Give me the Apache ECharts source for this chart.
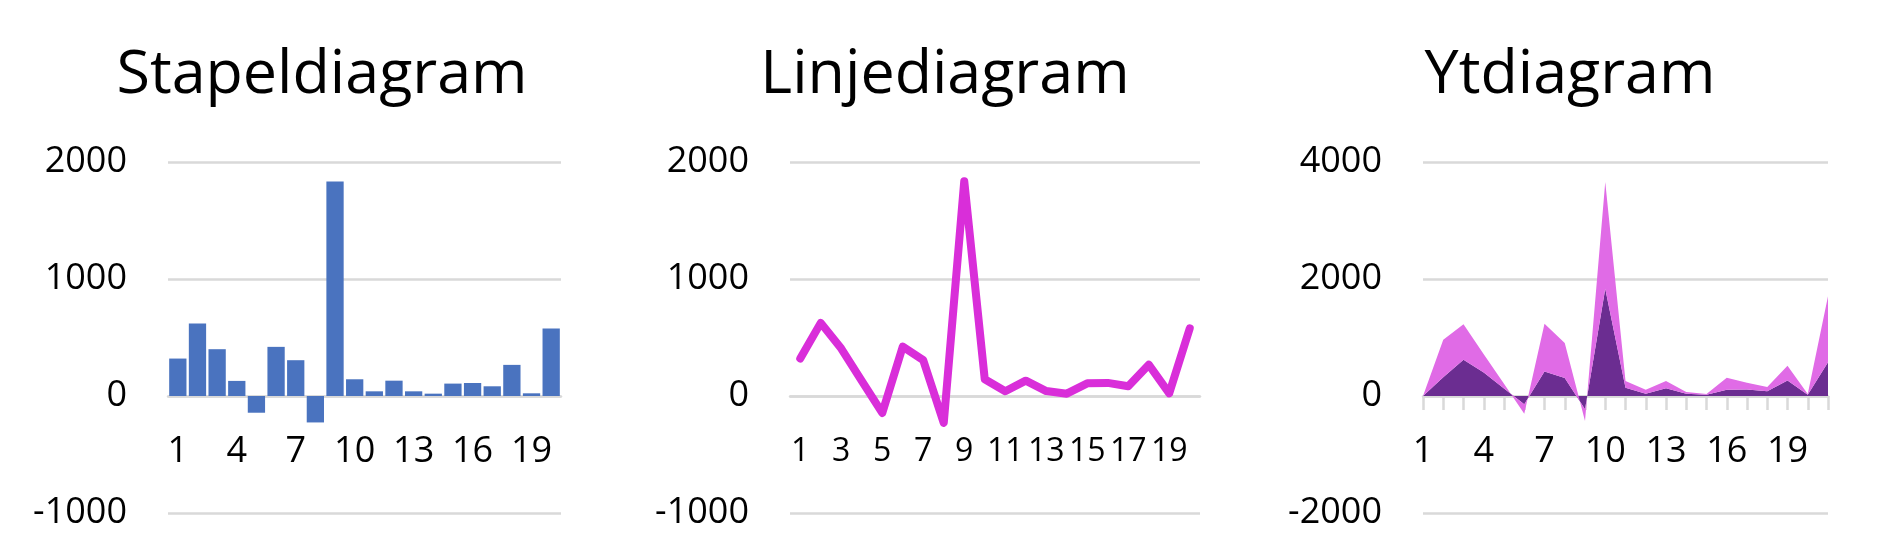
<!DOCTYPE html>
<html>
<head>
<meta charset="utf-8">
<script src="https://cdn.jsdelivr.net/npm/echarts@6/dist/echarts.min.js"></script>
<style>
  html, body { margin: 0; padding: 0; background: #fff; }
  #chart { width: 1880px; height: 544px; }
</style>
</head>
<body>
<div id="chart"></div>
<script>
// data
var barCats = ['1','2','3','4','5','6','7','8','9','10','11','12','13','14','15','16','17','18','19','20'];
var barValues = [320, 620, 400, 129, -143, 420, 306, -226, 1834, 143, 40, 131, 40, 20, 106, 111, 83, 266, 23, 577];
var lineValues = [320, 625, 405, 130, -145, 422, 306, -230, 1836, 143, 40, 131, 42, 20, 108, 112, 83, 268, 23, 578];
var areaCats = ['1','2','3','4','5','6','7','8','9','10','11','12','13','14','15','16','17','18','19','20','21'];
var areaBase = [0, 320, 620, 400, 129, -143, 420, 306, -226, 1834, 143, 40, 131, 40, 20, 106, 111, 83, 266, 23, 577];
var areaTop = [0, 643, 605, 315, 82, -159, 816, 600, -201, 1823, 113, 68, 125, 28, 14, 207, 117, 71, 253, 11, 1126];
var titles = ['Stapeldiagram', 'Linjediagram', 'Ytdiagram'];

var FONT = 'Open Sans';
var GRID_C = '#d9d9d9';
// grid is 351px tall for 3 steps, zero sits one step above the bottom
var ZERO_OFFSET = -117;

function yAxisFor(idx, min, max, step) {
  return {
    type: 'value', gridIndex: idx, min: min, max: max, interval: step,
    axisLine: { show: false }, axisTick: { show: false },
    axisLabel: { color: '#000', fontFamily: FONT, fontSize: 36, margin: 41,
      formatter: function (v) { return String(v); } },
    splitLine: { lineStyle: { color: GRID_C, width: 2.5 } }
  };
}

function xAxisFor(idx, cats, gap, labInt, ticks, fs) {
  return {
    type: 'category', gridIndex: idx, data: cats, boundaryGap: gap,
    position: 'bottom', offset: ZERO_OFFSET,
    axisLine: { show: true, onZero: false, lineStyle: { color: GRID_C, width: 2.5 } },
    axisTick: { show: ticks, interval: 0, length: 14, lineStyle: { color: GRID_C, width: 2.5 } },
    axisLabel: { interval: labInt, color: '#000', fontFamily: FONT, fontSize: fs,
      margin: 38 + (36 - fs) / 2 }
  };
}

var chart = echarts.init(document.getElementById('chart'));
chart.setOption({
  animation: false,
  title: [
    { text: titles[0], left: 317, top: 40, textAlign: 'center' },
    { text: titles[1], left: 940, top: 40, textAlign: 'center' },
    { text: titles[2], left: 1565, top: 40, textAlign: 'center' }
  ].map(function (t) {
    t.textStyle = { fontFamily: FONT, fontSize: 61, fontWeight: 'normal', color: '#000' };
    return t;
  }),
  grid: [
    { left: 168, width: 393, top: 162, bottom: 31, outerBoundsMode: 'none' },
    { left: 790, width: 410, top: 162, bottom: 31, outerBoundsMode: 'none' },
    { left: 1423, width: 405, top: 162, bottom: 31, outerBoundsMode: 'none' }
  ],
  xAxis: [
    xAxisFor(0, barCats, true, 2, false, 36),
    xAxisFor(1, barCats, true, 1, false, 32),
    xAxisFor(2, areaCats, false, 2, true, 36)
  ],
  yAxis: [
    yAxisFor(0, -1000, 2000, 1000),
    yAxisFor(1, -1000, 2000, 1000),
    yAxisFor(2, -2000, 4000, 2000)
  ],
  series: [
    {
      type: 'bar', xAxisIndex: 0, yAxisIndex: 0, data: barValues,
      barCategoryGap: '12%', itemStyle: { color: '#4a73bf' }
    },
    {
      type: 'line', xAxisIndex: 1, yAxisIndex: 1, data: lineValues,
      showSymbol: false, lineStyle: { color: '#d92ed9', width: 8, cap: 'round', join: 'round' }
    },
    {
      type: 'line', xAxisIndex: 2, yAxisIndex: 2, data: areaBase, stack: 'yt',
      showSymbol: false, lineStyle: { width: 0 },
      areaStyle: { color: '#6b2d91', opacity: 1 }
    },
    {
      type: 'line', xAxisIndex: 2, yAxisIndex: 2, data: areaTop, stack: 'yt',
      showSymbol: false, lineStyle: { width: 0 },
      areaStyle: { color: '#e06be6', opacity: 1 }
    }
  ]
});
</script>
</body>
</html>
